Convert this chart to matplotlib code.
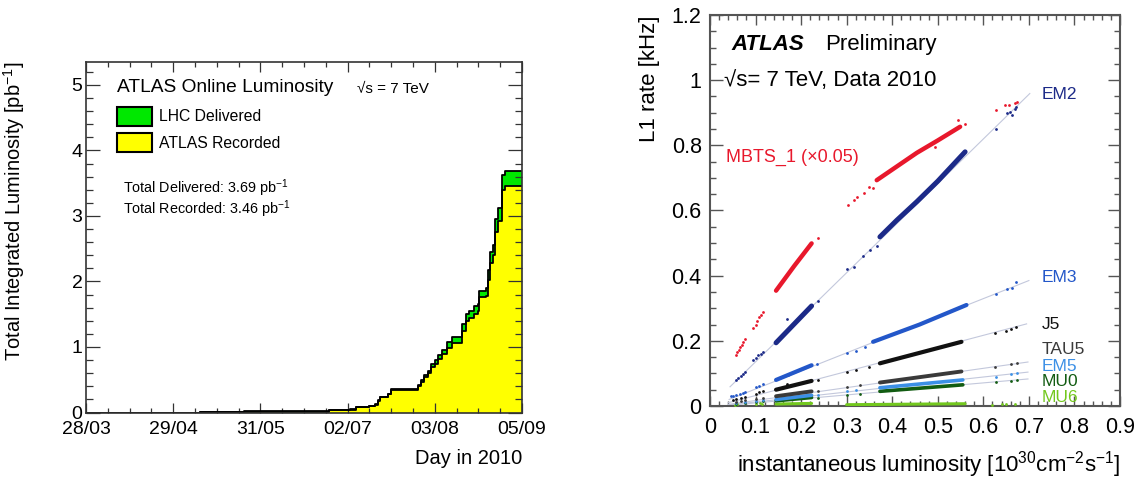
import numpy as np
import matplotlib
matplotlib.use('Agg')
import matplotlib.pyplot as plt
from matplotlib.ticker import MultipleLocator, FixedLocator
from matplotlib.patches import Patch

plt.rcParams['font.family'] = ['Liberation Sans', 'DejaVu Sans']
plt.rcParams['mathtext.fontset'] = 'custom'
plt.rcParams['mathtext.rm'] = 'Liberation Sans'
plt.rcParams['mathtext.it'] = 'Liberation Sans:italic'
plt.rcParams['mathtext.bf'] = 'Liberation Sans:bold'

nan = np.nan

# Lewy panel: scałkowana świetlność, dni liczone od 28/03
day_ticks = [0, 32, 64, 96, 128, 160]
day_labels = ['28/03', '29/04', '31/05', '02/07', '03/08', '05/09']
days = [0, 42, 58, 89, 97, 99, 104, 106, 107, 108, 111, 112, 122, 123, 124,
        125.5, 126.5, 128, 129, 130.5, 132.3, 134.3, 138, 139.3, 140.5, 142.5,
        143.7, 144.4, 146.9, 147.5, 148.2, 149.4, 150, 151.3, 152.6, 153.8, 160]
delivered = [0, 0.005, 0.02, 0.04, 0.05, 0.09, 0.10, 0.13, 0.19, 0.24, 0.29,
             0.355, 0.42, 0.50, 0.57, 0.64, 0.74, 0.80, 0.88, 0.96, 1.08, 1.16,
             1.35, 1.50, 1.55, 1.62, 1.65, 1.85, 1.90, 2.18, 2.45, 2.56, 2.95,
             3.12, 3.62, 3.69, 3.69]
recorded = [0, 0.003, 0.015, 0.035, 0.045, 0.085, 0.095, 0.12, 0.18, 0.23, 0.28,
            0.345, 0.40, 0.47, 0.54, 0.60, 0.69, 0.74, 0.81, 0.90, 0.98, 1.06,
            1.25, 1.40, 1.45, 1.50, 1.55, 1.77, 1.78, 2.02, 2.28, 2.40, 2.75,
            2.92, 3.40, 3.46, 3.46]

# Prawy panel: częstości L1 w funkcji chwilowej świetlności
# punkty rozproszone (x, y) oraz gęste pasma (wierzchołki, nan = przerwa)
mbts_x = [0.057, 0.060, 0.063, 0.066, 0.070, 0.073, 0.077, 0.094, 0.100, 0.104,
          0.108, 0.112, 0.116, 0.236, 0.304, 0.316, 0.322, 0.337, 0.350, 0.357,
          0.494, 0.545, 0.560, 0.627, 0.647, 0.657, 0.669, 0.673]
mbts_y = [0.156, 0.165, 0.172, 0.180, 0.186, 0.195, 0.205, 0.238, 0.250, 0.262,
          0.272, 0.280, 0.289, 0.517, 0.617, 0.632, 0.642, 0.653, 0.672, 0.670,
          0.795, 0.879, 0.864, 0.908, 0.923, 0.923, 0.930, 0.933]
mbts_band_x = [0.145, 0.185, 0.223, nan, 0.366, 0.41, 0.454, 0.50, 0.549]
mbts_band_y = [0.354, 0.43, 0.499, nan, 0.693, 0.735, 0.777, 0.815, 0.857]

em2_x = [0.057, 0.062, 0.067, 0.072, 0.077, 0.094, 0.100, 0.106, 0.111, 0.116,
         0.168, 0.236, 0.300, 0.315, 0.335, 0.351, 0.366, 0.627, 0.651, 0.658,
         0.663, 0.669, 0.671]
em2_y = [0.080, 0.087, 0.093, 0.099, 0.105, 0.141, 0.147, 0.155, 0.161, 0.167,
         0.267, 0.323, 0.419, 0.427, 0.46, 0.478, 0.49, 0.849, 0.898, 0.903,
         0.893, 0.91, 0.917]
em2_band_x = [0.145, 0.185, 0.223, nan, 0.373, 0.41, 0.454, 0.50, 0.56]
em2_band_y = [0.194, 0.252, 0.307, nan, 0.519, 0.57, 0.627, 0.69, 0.78]

em3_x = [0.045, 0.050, 0.057, 0.065, 0.072, 0.077, 0.100, 0.108, 0.116, 0.172,
         0.235, 0.300, 0.320, 0.340, 0.627, 0.651, 0.662, 0.672]
em3_y = [0.030, 0.032, 0.034, 0.038, 0.041, 0.044, 0.059, 0.062, 0.066, 0.095,
         0.130, 0.163, 0.170, 0.180, 0.345, 0.360, 0.362, 0.38]
em3_band_x = [0.145, 0.223, nan, 0.358, 0.46, 0.563]
em3_band_y = [0.08, 0.125, nan, 0.197, 0.25, 0.31]

j5_x = [0.05, 0.057, 0.067, 0.077, 0.10, 0.108, 0.116, 0.168, 0.236, 0.30,
        0.32, 0.35, 0.626, 0.650, 0.66, 0.672]
j5_y = [0.017, 0.02, 0.024, 0.028, 0.038, 0.042, 0.045, 0.067, 0.08, 0.104,
        0.11, 0.12, 0.223, 0.23, 0.235, 0.243]
j5_band_x = [0.145, 0.223, nan, 0.373, 0.552]
j5_band_y = [0.05, 0.077, nan, 0.131, 0.197]

tau5_x = [0.057, 0.067, 0.077, 0.10, 0.116, 0.236, 0.30, 0.33, 0.626, 0.66, 0.673]
tau5_y = [0.012, 0.015, 0.018, 0.022, 0.025, 0.046, 0.058, 0.064, 0.12, 0.128, 0.133]
tau5_band_x = [0.145, 0.223, nan, 0.373, 0.552]
tau5_band_y = [0.03, 0.045, nan, 0.072, 0.106]

em5_x = [0.057, 0.077, 0.10, 0.116, 0.236, 0.30, 0.32, 0.628, 0.66, 0.673]
em5_y = [0.008, 0.011, 0.015, 0.017, 0.033, 0.045, 0.05, 0.09, 0.098, 0.102]
em5_band_x = [0.145, 0.223, nan, 0.373, 0.555]
em5_band_y = [0.02, 0.033, nan, 0.056, 0.08]

mu0_x = [0.057, 0.077, 0.10, 0.116, 0.236, 0.30, 0.33, 0.628, 0.66, 0.673]
mu0_y = [0.005, 0.008, 0.012, 0.014, 0.026, 0.034, 0.038, 0.075, 0.078, 0.08]
mu0_band_x = [0.145, 0.223, nan, 0.373, 0.555]
mu0_band_y = [0.016, 0.026, nan, 0.045, 0.065]

mu6_x = [0.055, 0.06, 0.1, 0.11, 0.115, 0.62, 0.64, 0.65, 0.67]
mu6_y = [0.004, 0.006, 0.006, 0.008, 0.007, 0.004, 0.005, 0.005, 0.006]
mu6_band_x = [0.145, 0.223, nan, 0.30, 0.56]
mu6_band_y = [0.006, 0.008, nan, 0.004, 0.007]

# Dopasowania liniowe: EM2, EM3, J5, TAU5, EM5, MU0
fit_x0 = [0.044, 0.042, 0.04, 0.04, 0.04, 0.04]
fit_y0 = [0.059, 0.020, 0.010, 0.005, 0.003, 0.002]
fit_x1 = [0.702, 0.70, 0.695, 0.698, 0.698, 0.698]
fit_y1 = [0.959, 0.385, 0.252, 0.135, 0.104, 0.083]

trigger_names = ['EM2', 'EM3', 'J5', 'TAU5', 'EM5', 'MU0', 'MU6']
trigger_label_y = [0.957, 0.394, 0.25, 0.174, 0.122, 0.076, 0.027]
trigger_colors = ['#1c2a88', '#2357c9', '#111111', '#3a3a3a', '#3c90e6',
                  '#125c12', '#73c81e']


def plot_luminosity(ax):
    """Skumulowana świetlność: dostarczona (zielona) i zapisana (żółta)"""
    ax.fill_between(days, recorded, delivered, step='post', color='#00e800', lw=0)
    ax.fill_between(days, 0, recorded, step='post', color='#ffff00', lw=0)
    ax.step(days, delivered, where='post', color='black', lw=1.3)
    ax.step(days, recorded, where='post', color='black', lw=1.3)

    ax.set_xlim(0, 160)
    ax.set_ylim(0, 5.35)
    ax.xaxis.set_major_locator(FixedLocator(day_ticks))
    ax.set_xticklabels(day_labels)
    ax.xaxis.set_minor_locator(MultipleLocator(8))
    ax.yaxis.set_major_locator(MultipleLocator(1))
    ax.yaxis.set_minor_locator(MultipleLocator(0.2))
    ax.tick_params(which='both', direction='in', top=True, right=True,
                   color='#333333', width=0.9, labelsize=14)
    ax.tick_params(axis='x', which='major', length=7, pad=6)
    ax.tick_params(axis='x', which='minor', length=3.5)
    ax.tick_params(axis='y', which='major', length=10, pad=2.5)
    ax.tick_params(axis='y', which='minor', length=5)
    for s in ax.spines.values():
        s.set_color('#333333')
        s.set_linewidth(1.2)

    ax.set_xlabel('Day in 2010', fontsize=14.5, loc='right')
    ax.xaxis.set_label_coords(1.0, -0.105)
    ax.set_ylabel('Total Integrated Luminosity [pb$^{-1}$]', fontsize=14.5, loc='top')
    ax.yaxis.set_label_coords(-0.135, 1.0)

    ax.text(0.071, 0.926, 'ATLAS Online Luminosity', transform=ax.transAxes,
            fontsize=13.8, va='center')
    ax.text(0.622, 0.923, '√s = 7 TeV', transform=ax.transAxes,
            fontsize=11, va='center')
    handles = [Patch(facecolor='#00e800', edgecolor='black', lw=1.5, label='LHC Delivered'),
               Patch(facecolor='#ffff00', edgecolor='black', lw=1.5, label='ATLAS Recorded')]
    ax.legend(handles=handles, loc='upper left', bbox_to_anchor=(0.071, 0.872),
              frameon=False, fontsize=11.3, handlelength=2.25, handleheight=1.45,
              handletextpad=0.45, labelspacing=0.5, borderpad=0, borderaxespad=0)
    ax.text(0.085, 0.640, 'Total Delivered: 3.69 pb$^{-1}$', transform=ax.transAxes,
            fontsize=10.4, va='center')
    ax.text(0.085, 0.580, 'Total Recorded: 3.46 pb$^{-1}$', transform=ax.transAxes,
            fontsize=10.4, va='center')


def draw_trigger(ax, px, py, bx, by, color, lw):
    ax.plot(bx, by, color=color, lw=lw, solid_capstyle='round', zorder=3)
    ax.plot(px, py, 'o', color=color, ms=2.0, mec='none', zorder=3)


def plot_rates(ax):
    """Częstości triggerów L1 w funkcji chwilowej świetlności"""
    for x0, y0, x1, y1 in zip(fit_x0, fit_y0, fit_x1, fit_y1):
        ax.plot([x0, x1], [y0, y1], color='#c3c8dc', lw=0.8, zorder=2)

    draw_trigger(ax, mu6_x, mu6_y, mu6_band_x, mu6_band_y, trigger_colors[6], 2.2)
    draw_trigger(ax, mu0_x, mu0_y, mu0_band_x, mu0_band_y, trigger_colors[5], 2.6)
    draw_trigger(ax, em5_x, em5_y, em5_band_x, em5_band_y, trigger_colors[4], 2.6)
    draw_trigger(ax, tau5_x, tau5_y, tau5_band_x, tau5_band_y, trigger_colors[3], 2.8)
    draw_trigger(ax, j5_x, j5_y, j5_band_x, j5_band_y, trigger_colors[2], 3.0)
    draw_trigger(ax, em3_x, em3_y, em3_band_x, em3_band_y, trigger_colors[1], 3.0)
    draw_trigger(ax, em2_x, em2_y, em2_band_x, em2_band_y, trigger_colors[0], 3.6)
    draw_trigger(ax, mbts_x, mbts_y, mbts_band_x, mbts_band_y, '#e8182c', 3.2)

    ax.set_xlim(0, 0.9)
    ax.set_ylim(0, 1.2)
    ax.xaxis.set_major_locator(MultipleLocator(0.1))
    ax.xaxis.set_minor_locator(MultipleLocator(0.02))
    ax.yaxis.set_major_locator(MultipleLocator(0.2))
    ax.yaxis.set_minor_locator(MultipleLocator(0.05))
    ax.xaxis.set_major_formatter(lambda v, pos: f'{v:g}')
    ax.yaxis.set_major_formatter(lambda v, pos: f'{v:g}')
    ax.tick_params(which='both', direction='in', top=True, right=True,
                   color='#555555', width=1.0, labelsize=15.5)
    ax.tick_params(axis='x', which='major', length=7, pad=8)
    ax.tick_params(axis='x', which='minor', length=3.5)
    ax.tick_params(axis='y', which='major', length=9, pad=6)
    ax.tick_params(axis='y', which='minor', length=4.5)
    for s in ax.spines.values():
        s.set_color('#555555')
        s.set_linewidth(1.5)

    ax.set_xlabel('instantaneous luminosity [10$^{30}$cm$^{-2}$s$^{-1}$]',
                  fontsize=16, loc='right')
    ax.xaxis.set_label_coords(1.0, -0.11)
    ax.set_ylabel('L1 rate [kHz]', fontsize=16, loc='top')
    ax.yaxis.set_label_coords(-0.122, 1.0)

    ax.text(0.047, 1.108, 'ATLAS', fontsize=16, fontweight='bold',
            fontstyle='italic', va='center')
    ax.text(0.252, 1.108, 'Preliminary', fontsize=16, va='center')
    ax.text(0.030, 1.0, '√s= 7 TeV, Data 2010', fontsize=16, va='center')
    ax.text(0.036, 0.764, 'MBTS_1 (×0.05)', color='#e8182c', fontsize=13, va='center')
    for name, ly, c in zip(trigger_names, trigger_label_y, trigger_colors):
        ax.text(0.729, ly, name, color=c, fontsize=12.5, va='center')


def main():
    fig = plt.figure(figsize=(11.39, 4.8), dpi=100)
    ax1 = fig.add_axes([86 / 1139, 67.5 / 480, 436 / 1139, 350.5 / 480])
    ax2 = fig.add_axes([710 / 1139, 74 / 480, 410 / 1139, 391 / 480])
    plot_luminosity(ax1)
    plot_rates(ax2)
    fig.savefig('out.png', dpi=100)


if __name__ == "__main__":
    main()
